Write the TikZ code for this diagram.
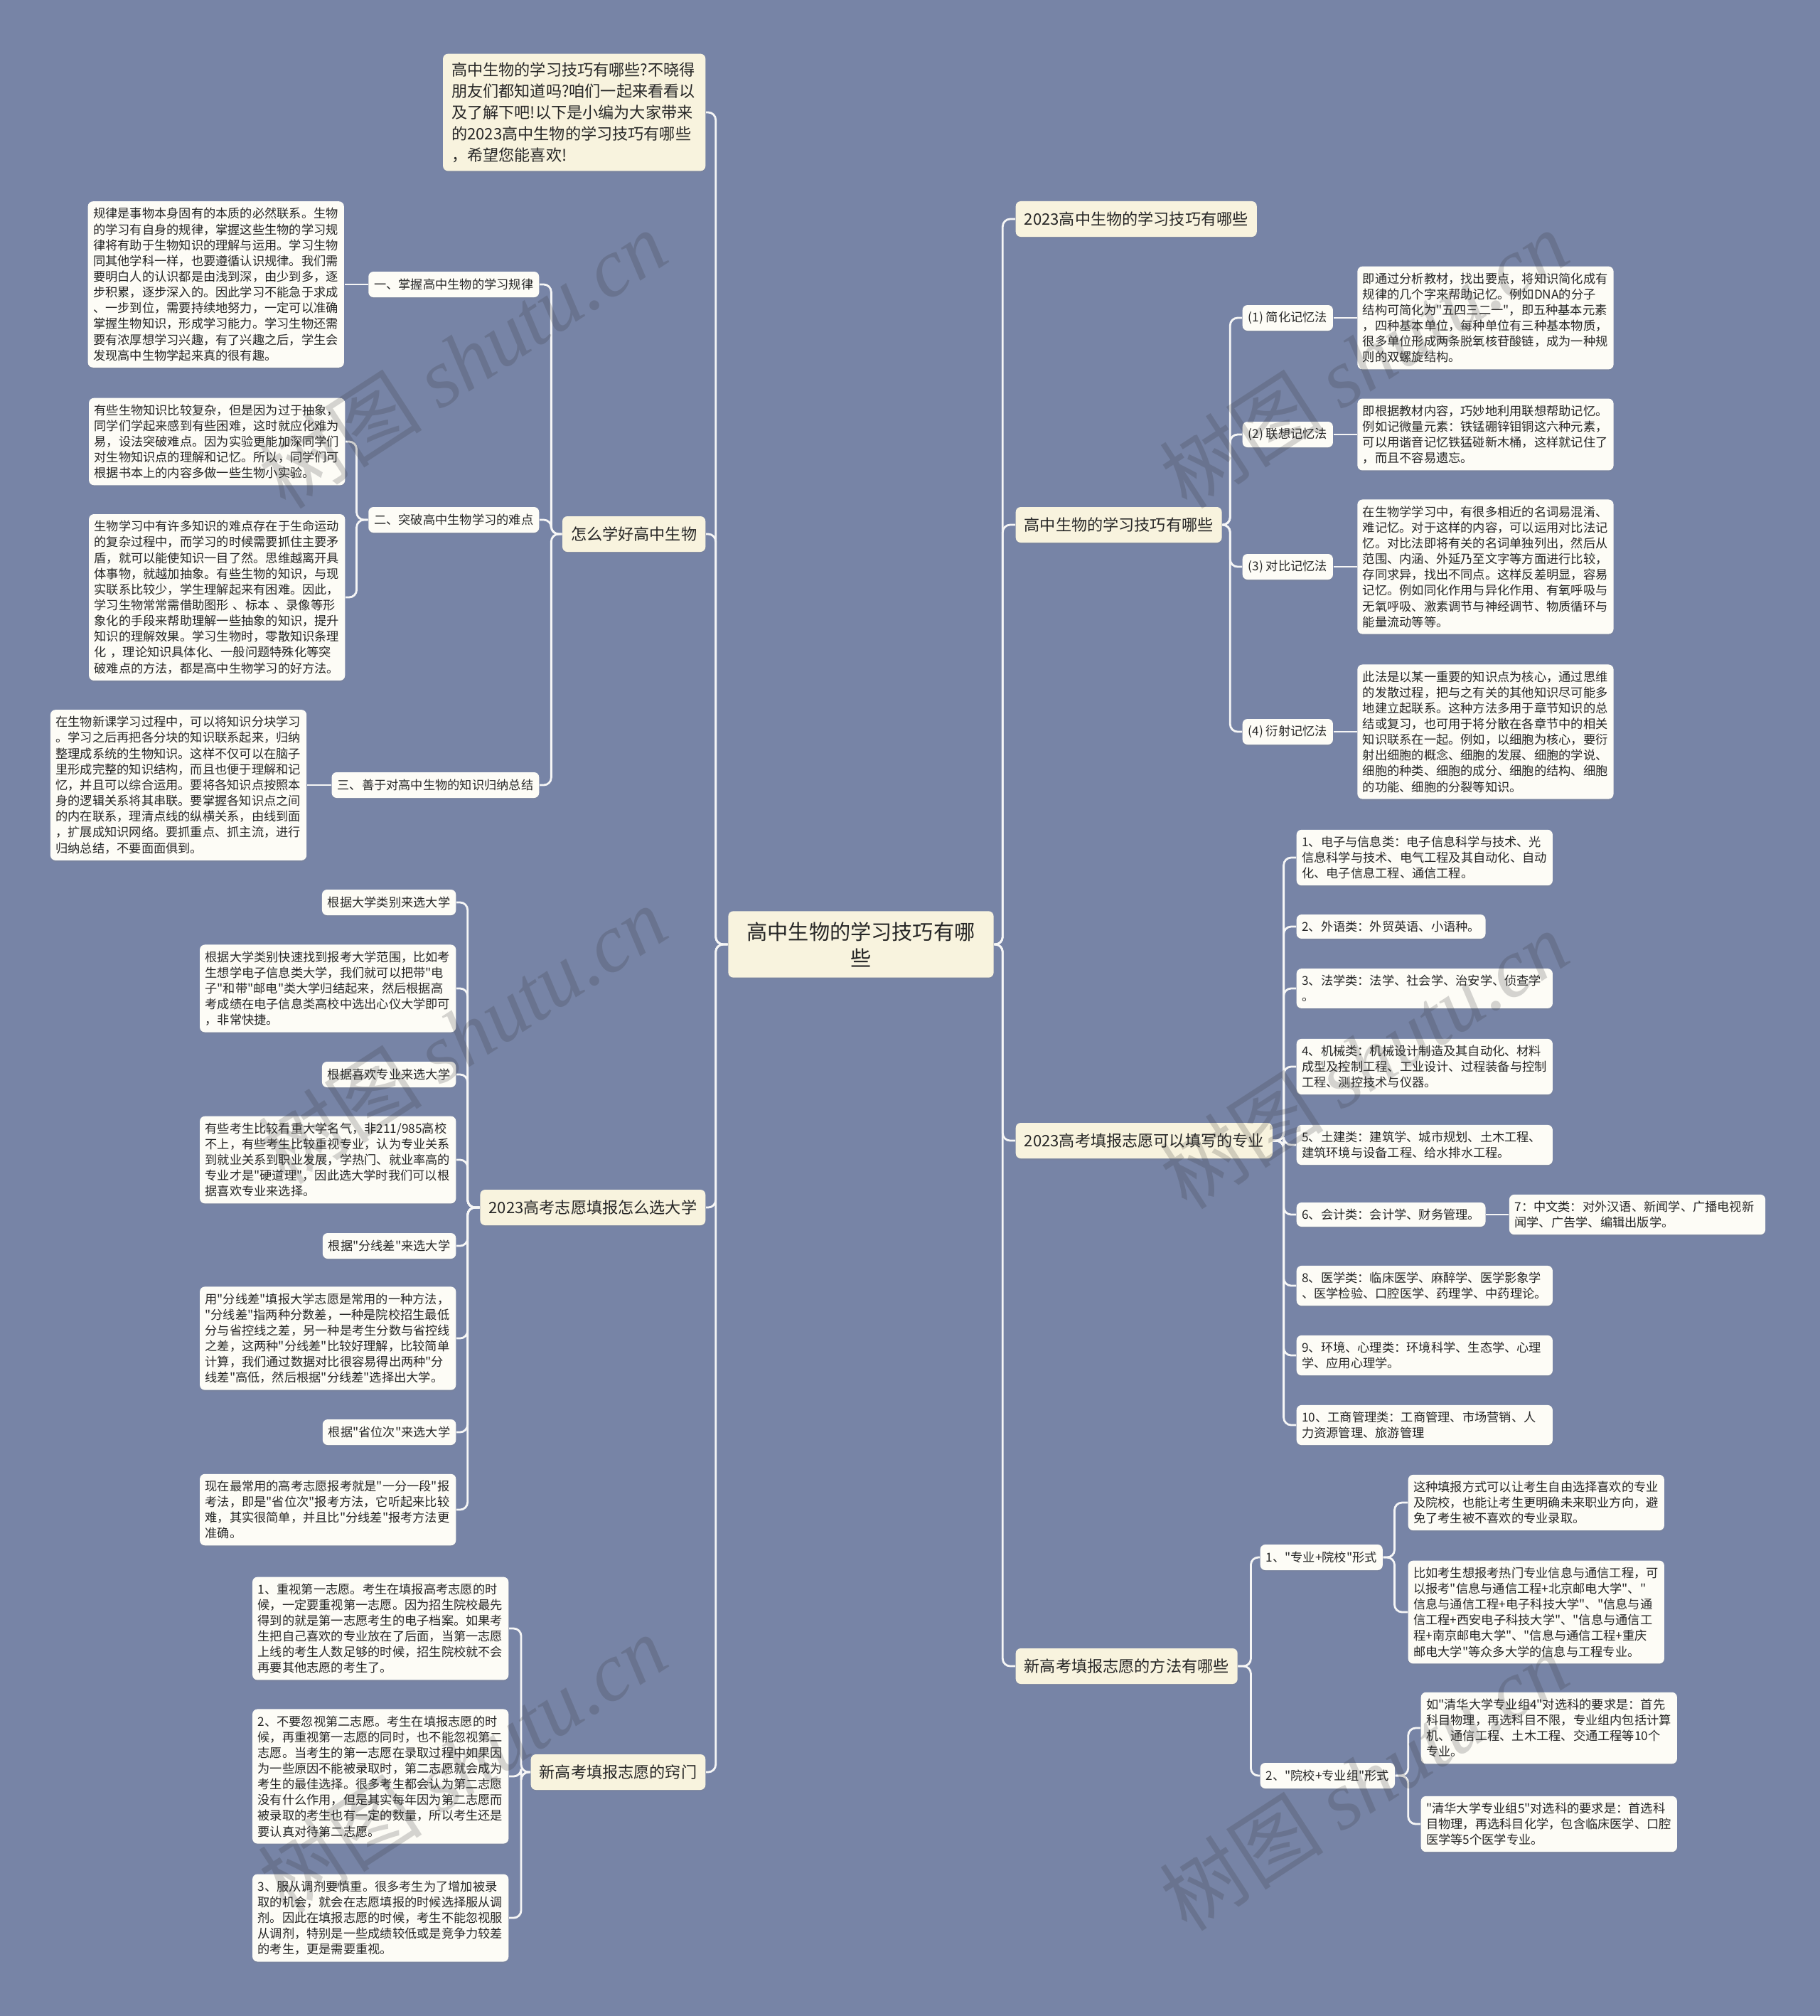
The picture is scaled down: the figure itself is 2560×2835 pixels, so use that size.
\documentclass[tikz,border=0pt]{standalone}
\usepackage{fontspec}
\setmainfont{Noto Sans CJK SC}
\newfontfamily\cjk{Noto Sans CJK SC}
\newfontfamily\wmlatin{Liberation Serif}
\usepackage{xcolor}
\usetikzlibrary{positioning, shadows}
\definecolor{bgc}{RGB}{119,132,166}
\definecolor{topc}{RGB}{248,243,222}
\definecolor{leafc}{RGB}{253,252,246}
\definecolor{txtc}{RGB}{38,38,38}
\definecolor{linec}{RGB}{246,246,246}

\begin{document}
\begin{tikzpicture}[x=0.01cm, y=-0.01cm,
    box/.style={rounded corners=2pt, text=txtc, drop shadow={opacity=0.18, shadow xshift=0pt, shadow yshift=-0.6pt}},
    hub/.style={box, fill=topc, font=\cjk\fontsize{8.3}{10.5}\selectfont, text width=3.25cm, align=center, inner xsep=0.24cm, inner ysep=0.15cm},
    note/.style={box, fill=topc, font=\cjk\fontsize{6.3}{8.5}\selectfont, text width=3.45cm, align=left, inner xsep=0.12cm, inner ysep=0.12cm},
    topic/.style={box, fill=topc, font=\cjk\fontsize{6.3}{8}\selectfont, inner xsep=0.12cm, inner ysep=0.05cm, minimum height=0.5cm},
    tag/.style={box, fill=leafc, font=\cjk\fontsize{4.9}{6.3}\selectfont, inner xsep=0.08cm, inner ysep=0.03cm, minimum height=0.36cm},
    leaf/.style={box, fill=leafc, font=\cjk\fontsize{4.9}{6.3}\selectfont, text width=3.45cm, align=left, inner xsep=0.075cm, inner ysep=0.09cm},
    link/.style={draw=linec, line width=0.8pt, rounded corners=3pt},
    wm/.style={rotate=33, text=black!80, opacity=0.2, font=\cjk\fontsize{33}{33}\selectfont}]
    \useasboundingbox (0,0) rectangle (2560,2835);
    \fill[bgc] (0,0) rectangle (2560,2835);

    \node[hub] (root) at (1211,1328) {高中生物的学习技巧有哪\\些};

    % left side
    \node[note, anchor=east] (intro) at (993,158) {高中生物的学习技巧有哪些?不晓得\\朋友们都知道吗?咱们一起来看看以\\及了解下吧!以下是小编为大家带来\\的2023高中生物的学习技巧有哪些\\，希望您能喜欢!};
    \node[topic, anchor=east] (a) at (993,751) {怎么学好高中生物};
    \node[topic, anchor=east] (b) at (993,1698) {2023高考志愿填报怎么选大学};
    \node[topic, anchor=east] (c) at (993,2492) {新高考填报志愿的窍门};

    \node[tag, anchor=east] (a1) at (759,400) {一、掌握高中生物的学习规律};
    \node[leaf, left=0.33cm of a1] (a1t) {规律是事物本身固有的本质的必然联系。生物\\的学习有自身的规律，掌握这些生物的学习规\\律将有助于生物知识的理解与运用。学习生物\\同其他学科一样，也要遵循认识规律。我们需\\要明白人的认识都是由浅到深，由少到多，逐\\步积累，逐步深入的。因此学习不能急于求成\\、一步到位，需要持续地努力，一定可以准确\\掌握生物知识，形成学习能力。学习生物还需\\要有浓厚想学习兴趣，有了兴趣之后，学生会\\发现高中生物学起来真的很有趣。};
    \node[tag, anchor=east] (a2) at (759,731) {二、突破高中生物学习的难点};
    \node[leaf, anchor=east] (a2x) at (486,621) {有些生物知识比较复杂，但是因为过于抽象，\\同学们学起来感到有些困难，这时就应化难为\\易，设法突破难点。因为实验更能加深同学们\\对生物知识点的理解和记忆。所以，同学们可\\根据书本上的内容多做一些生物小实验。};
    \node[leaf, anchor=east] (a2y) at (486,840) {生物学习中有许多知识的难点存在于生命运动\\的复杂过程中，而学习的时候需要抓住主要矛\\盾，就可以能使知识一目了然。思维越离开具\\体事物，就越加抽象。有些生物的知识，与现\\实联系比较少，学生理解起来有困难。因此，\\学习生物常常需借助图形 、标本 、录像等形\\象化的手段来帮助理解一些抽象的知识，提升\\知识的理解效果。学习生物时，零散知识条理\\化 ，理论知识具体化、一般问题特殊化等突\\破难点的方法，都是高中生物学习的好方法。};
    \node[tag, anchor=east] (a3) at (759,1104) {三、善于对高中生物的知识归纳总结};
    \node[leaf, left=0.34cm of a3] (a3t) {在生物新课学习过程中，可以将知识分块学习\\。学习之后再把各分块的知识联系起来，归纳\\整理成系统的生物知识。这样不仅可以在脑子\\里形成完整的知识结构，而且也便于理解和记\\忆，并且可以综合运用。要将各知识点按照本\\身的逻辑关系将其串联。要掌握各知识点之间\\的内在联系，理清点线的纵横关系，由线到面\\，扩展成知识网络。要抓重点、抓主流，进行\\归纳总结，不要面面俱到。};

    \node[tag, anchor=east] (b1) at (642,1269) {根据大学类别来选大学};
    \node[leaf, anchor=east] (b1t) at (642,1390) {根据大学类别快速找到报考大学范围，比如考\\生想学电子信息类大学，我们就可以把带"电\\子"和带"邮电"类大学归结起来，然后根据高\\考成绩在电子信息类高校中选出心仪大学即可\\，非常快捷。};
    \node[tag, anchor=east] (b2) at (642,1511) {根据喜欢专业来选大学};
    \node[leaf, anchor=east] (b2t) at (642,1631) {有些考生比较看重大学名气，非211/985高校\\不上，有些考生比较重视专业，认为专业关系\\到就业关系到职业发展，学热门、就业率高的\\专业才是"硬道理"，因此选大学时我们可以根\\据喜欢专业来选择。};
    \node[tag, anchor=east] (b3) at (642,1752) {根据"分线差"来选大学};
    \node[leaf, anchor=east] (b3t) at (642,1882) {用"分线差"填报大学志愿是常用的一种方法，\\"分线差"指两种分数差，一种是院校招生最低\\分与省控线之差，另一种是考生分数与省控线\\之差，这两种"分线差"比较好理解，比较简单\\计算，我们通过数据对比很容易得出两种"分\\线差"高低，然后根据"分线差"选择出大学。};
    \node[tag, anchor=east] (b4) at (642,2014) {根据"省位次"来选大学};
    \node[leaf, anchor=east] (b4t) at (642,2123) {现在最常用的高考志愿报考就是"一分一段"报\\考法，即是"省位次"报考方法，它听起来比较\\难，其实很简单，并且比"分线差"报考方法更\\准确。};

    \node[leaf, anchor=east] (c1) at (716,2290) {1、重视第一志愿。考生在填报高考志愿的时\\候，一定要重视第一志愿。因为招生院校最先\\得到的就是第一志愿考生的电子档案。如果考\\生把自己喜欢的专业放在了后面，当第一志愿\\上线的考生人数足够的时候，招生院校就不会\\再要其他志愿的考生了。};
    \node[leaf, anchor=east] (c2) at (716,2498) {2、不要忽视第二志愿。考生在填报志愿的时\\候，再重视第一志愿的同时，也不能忽视第二\\志愿。当考生的第一志愿在录取过程中如果因\\为一些原因不能被录取时，第二志愿就会成为\\考生的最佳选择。很多考生都会认为第二志愿\\没有什么作用，但是其实每年因为第二志愿而\\被录取的考生也有一定的数量，所以考生还是\\要认真对待第二志愿。};
    \node[leaf, anchor=east] (c3) at (716,2697) {3、服从调剂要慎重。很多考生为了增加被录\\取的机会，就会在志愿填报的时候选择服从调\\剂。因此在填报志愿的时候，考生不能忽视服\\从调剂，特别是一些成绩较低或是竞争力较差\\的考生，更是需要重视。};

    % right side
    \node[topic, anchor=west] (r1) at (1428,308) {2023高中生物的学习技巧有哪些};
    \node[topic, anchor=west] (r2) at (1428,738) {高中生物的学习技巧有哪些};
    \node[topic, anchor=west] (r3) at (1428,1604) {2023高考填报志愿可以填写的专业};
    \node[topic, anchor=west] (r4) at (1428,2343) {新高考填报志愿的方法有哪些};

    \node[tag, anchor=west] (k1) at (1747,447) {(1) 简化记忆法};
    \node[leaf, right=0.33cm of k1] (k1t) {即通过分析教材，找出要点，将知识简化成有\\规律的几个字来帮助记忆。例如DNA的分子\\结构可简化为"五四三二一"，即五种基本元素\\，四种基本单位，每种单位有三种基本物质，\\很多单位形成两条脱氧核苷酸链，成为一种规\\则的双螺旋结构。};
    \node[tag, anchor=west] (k2) at (1747,611) {(2) 联想记忆法};
    \node[leaf, right=0.33cm of k2] (k2t) {即根据教材内容，巧妙地利用联想帮助记忆。\\例如记微量元素：铁锰硼锌钼铜这六种元素，\\可以用谐音记忆铁猛碰新木桶，这样就记住了\\，而且不容易遗忘。};
    \node[tag, anchor=west] (k3) at (1747,797) {(3) 对比记忆法};
    \node[leaf, right=0.33cm of k3] (k3t) {在生物学学习中，有很多相近的名词易混淆、\\难记忆。对于这样的内容，可以运用对比法记\\忆。对比法即将有关的名词单独列出，然后从\\范围、内涵、外延乃至文字等方面进行比较，\\存同求异，找出不同点。这样反差明显，容易\\记忆。例如同化作用与异化作用、有氧呼吸与\\无氧呼吸、激素调节与神经调节、物质循环与\\能量流动等等。};
    \node[tag, anchor=west] (k4) at (1747,1029) {(4) 衍射记忆法};
    \node[leaf, right=0.33cm of k4] (k4t) {此法是以某一重要的知识点为核心，通过思维\\的发散过程，把与之有关的其他知识尽可能多\\地建立起联系。这种方法多用于章节知识的总\\结或复习，也可用于将分散在各章节中的相关\\知识联系在一起。例如，以细胞为核心，要衍\\射出细胞的概念、细胞的发展、细胞的学说、\\细胞的种类、细胞的成分、细胞的结构、细胞\\的功能、细胞的分裂等知识。};

    \node[leaf, anchor=west] (s1) at (1823,1206) {1、电子与信息类：电子信息科学与技术、光\\信息科学与技术、电气工程及其自动化、自动\\化、电子信息工程、通信工程。};
    \node[leaf, text width=, anchor=west] (s2) at (1823,1303) {2、外语类：外贸英语、小语种。};
    \node[leaf, anchor=west] (s3) at (1823,1390) {3、法学类：法学、社会学、治安学、侦查学\\。};
    \node[leaf, anchor=west] (s4) at (1823,1500) {4、机械类：机械设计制造及其自动化、材料\\成型及控制工程、工业设计、过程装备与控制\\工程、测控技术与仪器。};
    \node[leaf, anchor=west] (s5) at (1823,1610) {5、土建类：建筑学、城市规划、土木工程、\\建筑环境与设备工程、给水排水工程。};
    \node[leaf, text width=, anchor=west] (s6) at (1823,1708) {6、会计类：会计学、财务管理。};
    \node[leaf, right=0.32cm of s6] (s7) {7：中文类：对外汉语、新闻学、广播电视新\\闻学、广告学、编辑出版学。};
    \node[leaf, anchor=west] (s8) at (1823,1808) {8、医学类：临床医学、麻醉学、医学影象学\\、医学检验、口腔医学、药理学、中药理论。};
    \node[leaf, anchor=west] (s9) at (1823,1906) {9、环境、心理类：环境科学、生态学、心理\\学、应用心理学。};
    \node[leaf, anchor=west] (s10) at (1823,2004) {10、工商管理类：工商管理、市场营销、人\\力资源管理、旅游管理};

    \node[tag, anchor=west] (m1) at (1772,2190) {1、"专业+院校"形式};
    \node[leaf, anchor=west] (m1a) at (1980,2113) {这种填报方式可以让考生自由选择喜欢的专业\\及院校，也能让考生更明确未来职业方向，避\\免了考生被不喜欢的专业录取。};
    \node[leaf, anchor=west] (m1b) at (1980,2267) {比如考生想报考热门专业信息与通信工程，可\\以报考"信息与通信工程+北京邮电大学"、"\\信息与通信工程+电子科技大学"、"信息与通\\信工程+西安电子科技大学"、"信息与通信工\\程+南京邮电大学"、"信息与通信工程+重庆\\邮电大学"等众多大学的信息与工程专业。};
    \node[tag, anchor=west] (m2) at (1772,2497) {2、"院校+专业组"形式};
    \node[leaf, anchor=west] (m2a) at (1998,2430) {如"清华大学专业组4"对选科的要求是：首先\\科目物理，再选科目不限，专业组内包括计算\\机、通信工程、土木工程、交通工程等10个\\专业。};
    \node[leaf, anchor=west] (m2b) at (1998,2565) {"清华大学专业组5"对选科的要求是：首选科\\目物理，再选科目化学，包含临床医学、口腔\\医学等5个医学专业。};

    \draw[link] (root.west) -- ++(-17,0) |- (intro.east);
    \draw[link] (root.west) -- ++(-17,0) |- (a.east);
    \draw[link] (root.west) -- ++(-17,0) |- (b.east);
    \draw[link] (root.west) -- ++(-17,0) |- (c.east);
    \draw[link] (a.west) -- ++(-15,0) |- (a1.east);
    \draw[link] (a.west) -- ++(-15,0) |- (a2.east);
    \draw[link] (a.west) -- ++(-15,0) |- (a3.east);
    \draw[link] (a1) -- (a1t);
    \draw[link] (a2.west) -- ++(-16,0) |- (a2x.east);
    \draw[link] (a2.west) -- ++(-16,0) |- (a2y.east);
    \draw[link] (a3) -- (a3t);
    \draw[link] (b.west) -- ++(-17,0) |- (b1.east);
    \draw[link] (b.west) -- ++(-17,0) |- (b1t.east);
    \draw[link] (b.west) -- ++(-17,0) |- (b2.east);
    \draw[link] (b.west) -- ++(-17,0) |- (b2t.east);
    \draw[link] (b.west) -- ++(-17,0) |- (b3.east);
    \draw[link] (b.west) -- ++(-17,0) |- (b3t.east);
    \draw[link] (b.west) -- ++(-17,0) |- (b4.east);
    \draw[link] (b.west) -- ++(-17,0) |- (b4t.east);
    \draw[link] (c.west) -- ++(-13,0) |- (c1.east);
    \draw[link] (c.west) -- ++(-13,0) |- (c2.east);
    \draw[link] (c.west) -- ++(-13,0) |- (c3.east);

    \draw[link] (root.east) -- ++(12,0) |- (r1.west);
    \draw[link] (root.east) -- ++(12,0) |- (r2.west);
    \draw[link] (root.east) -- ++(12,0) |- (r3.west);
    \draw[link] (root.east) -- ++(12,0) |- (r4.west);
    \draw[link] (r2.east) -- ++(11,0) |- (k1.west);
    \draw[link] (r2.east) -- ++(11,0) |- (k2.west);
    \draw[link] (r2.east) -- ++(11,0) |- (k3.west);
    \draw[link] (r2.east) -- ++(11,0) |- (k4.west);
    \draw[link] (k1) -- (k1t);
    \draw[link] (k2) -- (k2t);
    \draw[link] (k3) -- (k3t);
    \draw[link] (k4) -- (k4t);
    \draw[link] (r3.east) -- ++(15,0) |- (s1.west);
    \draw[link] (r3.east) -- ++(15,0) |- (s2.west);
    \draw[link] (r3.east) -- ++(15,0) |- (s3.west);
    \draw[link] (r3.east) -- ++(15,0) |- (s4.west);
    \draw[link] (r3.east) -- ++(15,0) |- (s5.west);
    \draw[link] (r3.east) -- ++(15,0) |- (s6.west);
    \draw[link] (r3.east) -- ++(15,0) |- (s8.west);
    \draw[link] (r3.east) -- ++(15,0) |- (s9.west);
    \draw[link] (r3.east) -- ++(15,0) |- (s10.west);
    \draw[link] (s6) -- (s7);
    \draw[link] (r4.east) -- ++(18,0) |- (m1.west);
    \draw[link] (r4.east) -- ++(18,0) |- (m2.west);
    \draw[link] (m1.east) -- ++(16,0) |- (m1a.west);
    \draw[link] (m1.east) -- ++(16,0) |- (m1b.west);
    \draw[link] (m2.east) -- ++(18,0) |- (m2a.west);
    \draw[link] (m2.east) -- ++(18,0) |- (m2b.west);

    \foreach \x/\y [count=\i] in {650/505, 650/1455, 650/2480, 1918/505, 1918/1490, 1918/2505}
        \node[wm] (wm\i) at (\x,\y) {树图 {\wmlatin\itshape shutu.cn}};
\end{tikzpicture}
\end{document}
